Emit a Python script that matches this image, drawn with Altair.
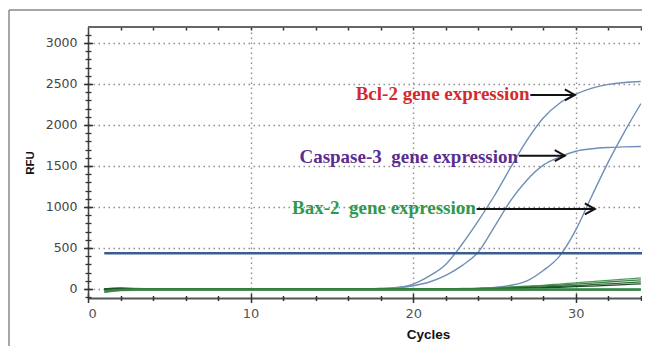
import altair as alt
import pandas as pd

# ---------------- data ----------------
cycles = [float(c) for c in range(1, 35)]

bcl2 = [0] * 17 + [5, 18, 60, 160, 300, 545, 830, 1140, 1485, 1815, 2085, 2265,
                   2375, 2450, 2495, 2518, 2530]
caspase3 = [0] * 17 + [5, 15, 40, 85, 165, 285, 450, 760, 1080, 1330, 1510, 1610,
                       1680, 1710, 1725, 1733, 1738]
bax2 = [0] * 22 + [5, 10, 20, 45, 100, 225, 400, 720, 1140, 1550, 1920, 2260]

green1 = [0, 15, 8, 5, 3] + [2] * 16 + [3, 5, 8, 15, 25, 35, 45, 60, 75, 90, 105, 120, 135]
green2 = [-5, 8] + [0] * 21 + [5, 10, 20, 28, 38, 48, 60, 72, 85, 98, 110]
green3 = [0] * 25 + [12, 18, 25, 33, 42, 52, 62, 74, 86]
green4 = [0] * 25 + [5, 10, 15, 21, 28, 36, 45, 54, 63]
black = [-25, -10] + [-6] * 32
red = [-40, -15] + [-12] * 32

threshold = 435

ann_text = ["Bcl-2 gene expression", "Caspase-3\u00a0 gene expression", "Bax-2\u00a0 gene expression"]
ann_x = [27.15, 26.45, 23.85]
ann_y = [2378, 1613, 988]
ann_color = ["#d52a2a", "#5a2d8f", "#2e9a4c"]
arrow_x1 = [27.2, 26.5, 23.9]
arrow_x2 = [29.94, 29.32, 31.17]
arrow_y = [2366, 1626, 976]

x_major = [0, 10, 20, 30]
x_minor = [c for c in range(2, 35, 2) if c % 10 != 0]
x_top = [c for c in range(2, 35, 2)]
y_major = [0, 500, 1000, 1500, 2000, 2500, 3000]
y_minor = list(range(-100, 3200, 100))


def long(names, series):
    rows = []
    for n, vals in zip(names, series):
        for c, v in zip(cycles, vals):
            rows.append({"series": n, "cycle": c, "rfu": v})
    return pd.DataFrame(rows)


blue_df = long(["Bcl-2", "Caspase-3", "Bax-2"], [bcl2, caspase3, bax2])
green_df = long(["g1", "g2", "g3", "g4"], [green1, green2, green3, green4])
base_df = long(["red", "black"], [red, black])

thr_df = pd.DataFrame({"x": [1.0], "x2": [34.07], "y": [threshold]})
ann_df = pd.DataFrame({"text": ann_text, "x": ann_x, "y": ann_y, "color": ann_color})
arr_df = pd.DataFrame({"x": arrow_x1, "x2": arrow_x2, "y": arrow_y})

# ---------------- scales / axes ----------------
xs = alt.Scale(domain=[0, 34.07], nice=False, zero=False)
ys = alt.Scale(domain=[-110, 3195], nice=False, zero=False)

grid_kw = dict(grid=True, gridColor="#8f8f8f", gridDash=[1.5, 3.5], gridWidth=1.4)

x_label_axis = alt.Axis(orient="bottom", values=x_major, format="d", ticks=False, tickSize=0,
                        domain=True, domainColor="#555555", domainWidth=2,
                        labelFont="DejaVu Sans", labelFontSize=13, labelColor="#555555", labelPadding=9,
                        title="Cycles", titleFont="Liberation Sans", titleFontSize=13.5,
                        titleFontWeight="bold", titleColor="#111111", titleX=340, titleY=36,
                        titleAlign="center", titleBaseline="middle", **grid_kw)
x_major_ticks = alt.Axis(orient="bottom", values=x_major, offset=-4.5, tickSize=9, tickColor="#333333",
                         tickWidth=1.5, labels=False, domain=False, grid=False, title=None)
x_minor_ticks = alt.Axis(orient="bottom", values=x_minor, offset=-2.5, tickSize=5, tickColor="#333333",
                         tickWidth=1.5, labels=False, domain=False, grid=False, title=None)
x_top_ticks = alt.Axis(orient="top", values=x_top, offset=-3, tickSize=3,
                       tickColor="#333333", tickWidth=1.5, labels=False, domain=False, grid=False,
                       title=None)

y_label_axis = alt.Axis(orient="left", values=y_major, format="d", ticks=False, tickSize=0,
                        domain=True, domainColor="#444444", domainWidth=1.5,
                        labelFont="DejaVu Sans", labelFontSize=12.5, labelColor="#444444", labelPadding=11,
                        title="RFU", titleFont="Liberation Sans", titleFontSize=11.5,
                        titleFontWeight="bold", titleColor="#111111", titleAngle=270,
                        titleX=-58, titleY=135.5, titleAlign="center", titleBaseline="middle",
                        **grid_kw)
y_major_ticks = alt.Axis(orient="left", values=y_major, offset=-4.5, tickSize=9, tickColor="#333333",
                         tickWidth=1.5, labels=False, domain=False, grid=False, title=None)
y_minor_ticks = alt.Axis(orient="left", values=y_minor, offset=-3, tickSize=6, tickColor="#333333",
                         tickWidth=1.3, labels=False, domain=False, grid=False, title=None)

# ---------------- layers ----------------
blue = alt.Chart(blue_df).mark_line(strokeWidth=1.4, interpolate="monotone", clip=True).encode(
    x=alt.X("cycle:Q", scale=xs, axis=x_label_axis),
    y=alt.Y("rfu:Q", scale=ys, axis=y_label_axis),
    detail="series:N",
    color=alt.value("#6f8fb6"),
)

green = alt.Chart(green_df).mark_line(strokeWidth=1.3, interpolate="monotone", clip=True).encode(
    x=alt.X("cycle:Q", scale=xs, axis=x_major_ticks),
    y=alt.Y("rfu:Q", scale=ys, axis=y_major_ticks),
    color=alt.Color("series:N", scale=alt.Scale(domain=["g1", "g2", "g3", "g4"],
                                                 range=["#4f9a58", "#3b8346", "#2c6a37", "#1d4a26"]),
                    legend=None),
)

base = alt.Chart(base_df).mark_line(strokeWidth=2.2, interpolate="monotone", clip=True).encode(
    x=alt.X("cycle:Q", scale=xs, axis=x_minor_ticks),
    y=alt.Y("rfu:Q", scale=ys, axis=y_minor_ticks),
    color=alt.Color("series:N", scale=alt.Scale(domain=["red", "black"], range=["#b8322a", "#141414"]),
                    legend=None),
)

thr = alt.Chart(thr_df).mark_rule(strokeWidth=2.6, color="#3b5c8d").encode(
    x=alt.X("x:Q", scale=xs, axis=None),
    x2="x2:Q",
    y=alt.Y("y:Q", scale=ys, axis=None),
)

arrows = alt.Chart(arr_df).mark_rule(strokeWidth=2, color="#111111").encode(
    x=alt.X("x:Q", scale=xs, axis=x_top_ticks),
    x2="x2:Q",
    y=alt.Y("y:Q", scale=ys, axis=None),
)

heads = alt.Chart(arr_df).mark_point(shape="M-1,-0.55L0,0L-1,0.55", filled=False, size=400,
                                     strokeWidth=2, color="#111111", opacity=1).encode(
    x=alt.X("x2:Q", scale=xs, axis=None),
    y=alt.Y("y:Q", scale=ys, axis=None),
)

labels = alt.Chart(ann_df).mark_text(font="Liberation Serif", fontSize=19, fontWeight="bold",
                                     align="right", baseline="middle").encode(
    x=alt.X("x:Q", scale=xs, axis=None),
    y=alt.Y("y:Q", scale=ys, axis=None),
    text="text:N",
    color=alt.Color("color:N", scale=None),
)

frame_df = pd.DataFrame({"k": [0]})
plot_top = alt.Chart(frame_df).mark_rule(color="#666666", strokeWidth=2).encode(
    x=alt.value(0), x2=alt.value(554), y=alt.value(0))
frame_top = alt.Chart(frame_df).mark_rule(color="#8a8a8a", strokeWidth=1.5).encode(
    x=alt.value(-79), x2=alt.value(560), y=alt.value(-17))
frame_left = alt.Chart(frame_df).mark_rule(color="#8a8a8a", strokeWidth=1.5).encode(
    x=alt.value(-79), y=alt.value(-17), y2=alt.value(340))

chart = alt.layer(blue, green, base, thr, arrows, heads, labels, plot_top, frame_top,
                  frame_left).resolve_axis(
    x="independent", y="independent"
).properties(
    width=554, height=271,
    autosize=alt.AutoSizeParams(type="none"),
    padding={"left": 80, "top": 19, "right": 0, "bottom": 48},
).configure_view(stroke=None).configure(background="white")

chart.save("out.html", embed_options={"renderer": "svg", "actions": False})
